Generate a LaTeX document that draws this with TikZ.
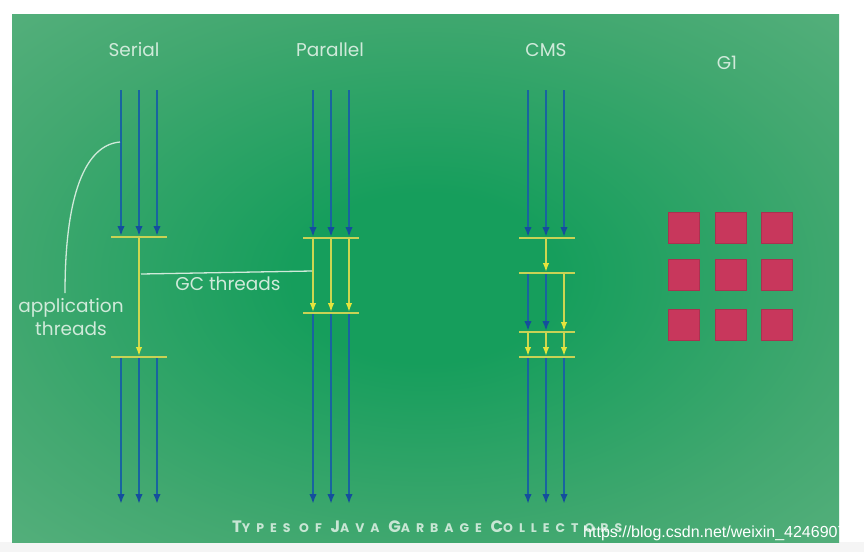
\documentclass[tikz,border=0pt]{standalone}
\usepackage{fontspec}
\setmainfont{Poppins}
\newfontfamily\wmfont{Liberation Sans}
\newfontfamily\capfont[LetterSpace=48]{Poppins}
\usetikzlibrary{arrows.meta}
\definecolor{gcen}{RGB}{22,158,92}
\definecolor{gedge}{RGB}{66,168,112}
\definecolor{gfar}{RGB}{92,178,128}
\definecolor{arrblue}{RGB}{24,100,160}
\definecolor{headblue}{RGB}{20,78,156}
\definecolor{ylw}{RGB}{205,214,80}
\definecolor{ylwhead}{RGB}{228,228,60}
\definecolor{barc}{RGB}{200,210,85}
\definecolor{txt}{RGB}{208,234,218}
\definecolor{captxt}{RGB}{200,230,212}
\definecolor{sqc}{RGB}{200,55,92}
\definecolor{sqd}{RGB}{170,50,80}
\pgfdeclareradialshading{greenbg}{\pgfpoint{0bp}{0bp}}{color(0bp)=(gcen); color(8bp)=(gcen); color(26bp)=(gedge); color(40bp)=(gfar); color(50bp)=(gfar)}
\newcommand\capB[1]{{\fontsize{16.5}{16.5}\selectfont #1}}
\tikzset{
  bluearr/.style={draw=arrblue, line width=2.2pt, -{Latex[length=10pt,width=7.5pt,fill=headblue,color=headblue]}},
  yelarr/.style={draw=ylw, line width=1.6pt, -{Latex[length=9pt,width=6.5pt,fill=ylwhead,color=ylwhead]}},
  barnode/.style={fill=barc, draw=none, minimum width=56pt, minimum height=2pt, inner sep=0pt, outer sep=0pt},
  lbl/.style={text=txt, font=\fontsize{18.5}{23}\selectfont, inner sep=0pt},
  pointer/.style={draw=txt, line width=1.3pt},
  sq/.style={fill=sqc, draw=sqd, line width=0.8pt, minimum size=31pt, inner sep=0pt, anchor=north west}
}
\begin{document}
\begin{tikzpicture}[x=1pt,y=-1pt]
\useasboundingbox (0,0) rectangle (864,552);
\fill[white] (0,0) rectangle (864,552);
\fill[black!4] (0,542) rectangle (864,552);
\shade[shading=greenbg] (12,14) rectangle (839,542);

% titles
\node[lbl] (tserial) at (134,50) {Serial};
\node[lbl] (tpar) at (330,50) {Parallel};
\node[lbl] (tcms) at (546,50) {CMS};
\node[lbl] (tg1) at (727,63) {G1};

% ---- Serial
\node[barnode] (s1) at (139,237) {};
\node[barnode] (s2) at (139,357) {};
\foreach \x in {121,139,157}{
  \coordinate (st\x) at (\x,90);
  \coordinate (sb\x) at (\x,504);
  \draw[bluearr] (st\x) -- (st\x |- s1.north);
  \draw[bluearr] (s2.south -| sb\x) -- (sb\x);
}
\draw[yelarr] (s1.south) -- (s2.north);

% ---- Parallel
\node[barnode] (p1) at (331,238) {};
\node[barnode] (p2) at (331,313) {};
\foreach \x in {313,331,349}{
  \coordinate (pt\x) at (\x,90);
  \coordinate (pb\x) at (\x,504);
  \draw[bluearr] (pt\x) -- (pt\x |- p1.north);
  \draw[yelarr] (p1.south -| pt\x) -- (p2.north -| pt\x);
  \draw[bluearr] (p2.south -| pb\x) -- (pb\x);
}

% ---- CMS
\node[barnode] (c1) at (547,238) {};
\node[barnode] (c2) at (547,273) {};
\node[barnode] (c3) at (547,332) {};
\node[barnode] (c4) at (547,357) {};
\foreach \x in {528,546,564}{
  \coordinate (ct\x) at (\x,90);
  \coordinate (cb\x) at (\x,504);
  \draw[bluearr] (ct\x) -- (ct\x |- c1.north);
  \draw[yelarr] (c3.south -| ct\x) -- (c4.north -| ct\x);
  \draw[bluearr] (c4.south -| cb\x) -- (cb\x);
}
\draw[yelarr] (c1.south -| ct546) -- (c2.north -| ct546);
\draw[bluearr] (c2.south -| ct528) -- (c3.north -| ct528);
\draw[bluearr] (c2.south -| ct546) -- (c3.north -| ct546);
\draw[yelarr] (c2.south -| ct564) -- (c3.north -| ct564);

% ---- labels and pointers
\node[lbl] (gclbl) at (228,284) {GC threads};
\coordinate (gcA) at (141,274);
\coordinate (gcB) at (312,271);
\draw[pointer] (gcA) -- (gcB);
\node[lbl, align=center] (applbl) at (71,317) {application\\threads};
\coordinate (apA) at (120,142);
\coordinate (apB) at (65,293);
\draw[pointer] (apA) .. controls (85,145) and (65,195) .. (apB);

% ---- G1 regions
\foreach \i/\x in {1/668,2/715,3/761}{
  \foreach \j/\y in {1/212,2/259,3/309}{
    \node[sq] (g\i\j) at (\x,\y) {};
  }
}

% ---- caption
\node[anchor=west, inner sep=0pt, text=captxt] (caption) at (232,527)
  {\capfont\bfseries\fontsize{12.5}{12.5}\selectfont \capB{T}YPES OF \capB{J}AVA \capB{G}ARBAGE \capB{C}OLLECTORS};

% ---- watermark
\node[anchor=west, inner sep=0pt, font=\wmfont\fontsize{16}{16}\selectfont, text=white] (wm) at (583,533) {https://blog.csdn.net/weixin\_42469070};
\end{tikzpicture}
\end{document}
